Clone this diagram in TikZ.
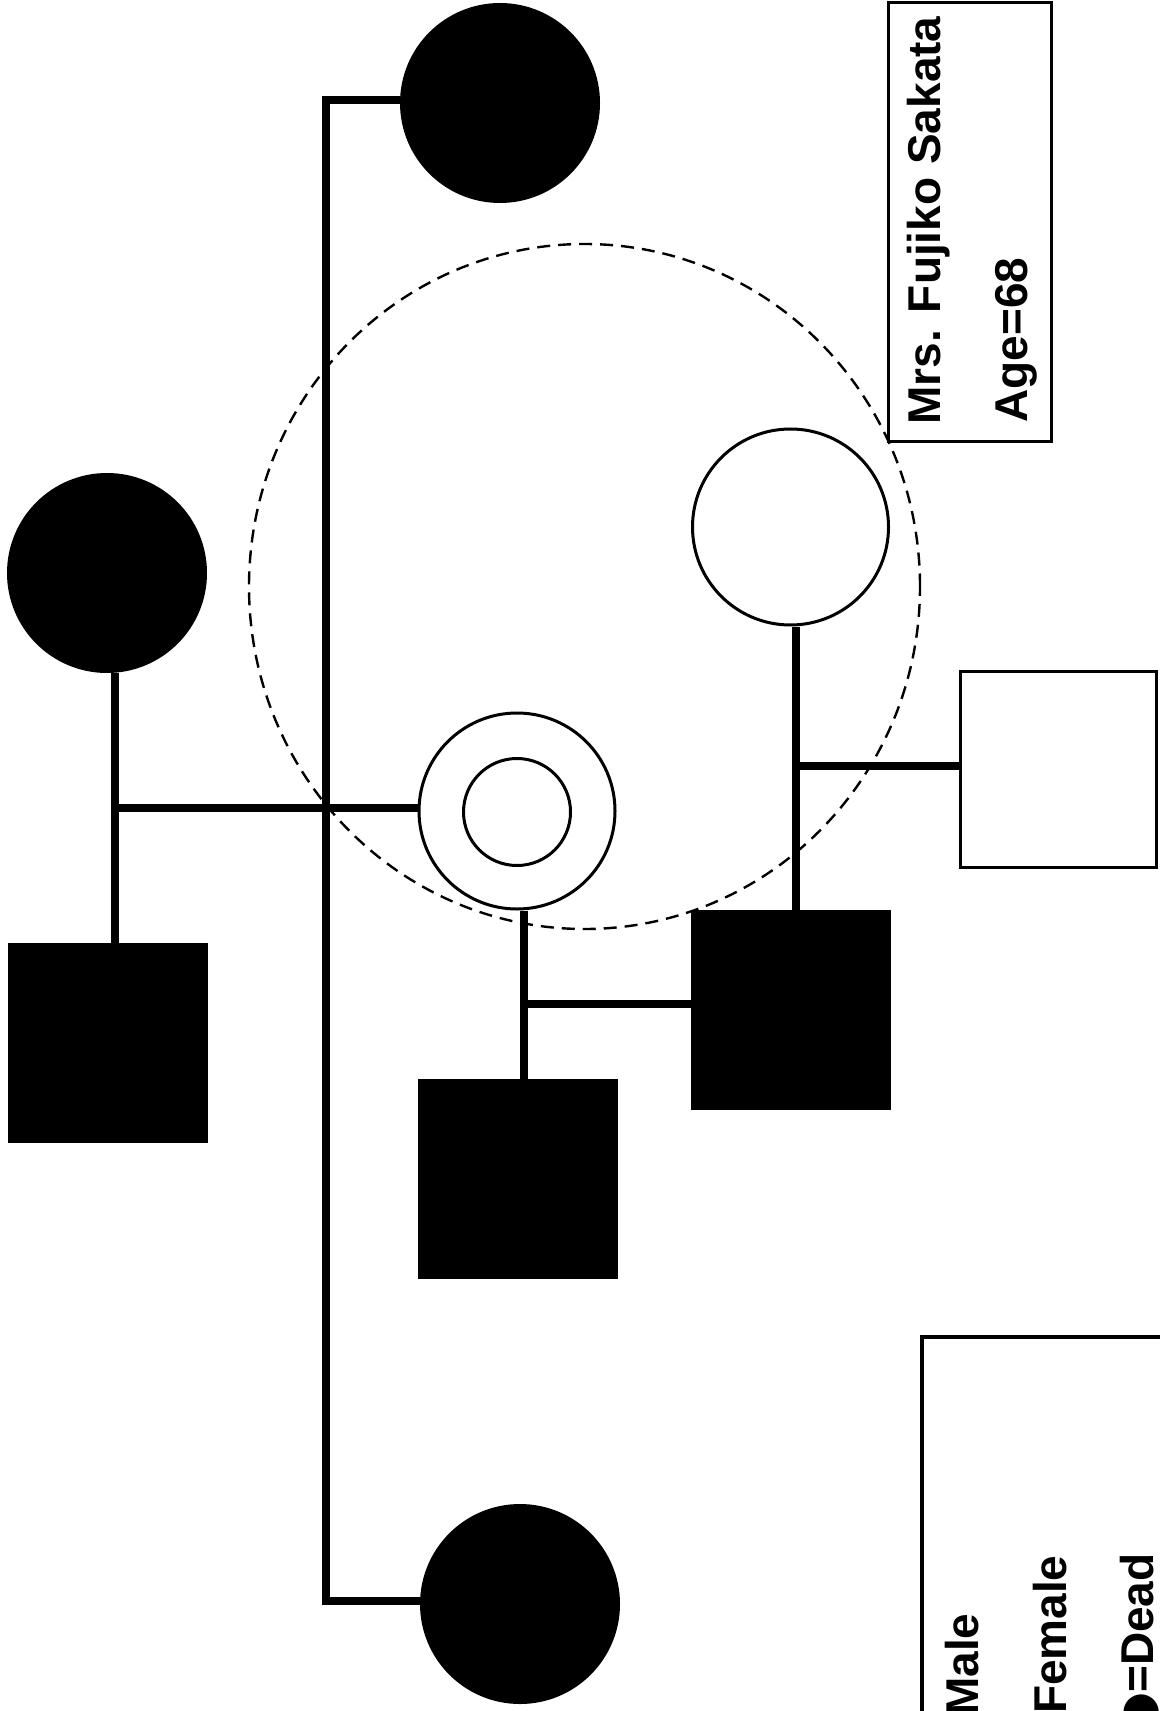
\documentclass[tikz,border=0pt]{standalone}
\usepackage{fontspec}
\setmainfont{Liberation Sans}
\newfontfamily\symf{DejaVu Sans}
\usetikzlibrary{shapes.geometric}
\begin{document}
\begin{tikzpicture}[x=0.5pt,y=-0.5pt,
  fcirc/.style={circle,fill=black,draw=none,minimum size=100pt,inner sep=0pt},
  ocirc/.style={circle,draw=black,line width=1.5pt,minimum size=98pt,inner sep=0pt},
  icirc/.style={circle,draw=black,line width=1.5pt,minimum size=53.5pt,inner sep=0pt},
  fsq/.style={rectangle,fill=black,draw=none,minimum size=100pt,inner sep=0pt},
  osq/.style={rectangle,draw=black,line width=1.5pt,minimum size=98pt,inner sep=0pt},
  conn/.style={line width=4pt},
  grpring/.style={ellipse,draw=black,line width=1.2pt,dash pattern=on 6.5pt off 4pt,inner sep=0pt},
  lbl/.style={rotate=90,inner sep=0pt,font=\fontsize{23}{28}\selectfont\bfseries},
]
\useasboundingbox (0,0) rectangle (1160,1711);
\clip (0,0) rectangle (1160,1711);

% symbols
\node[fcirc] (tc) at (500,103) {};
\node[fcirc] (lc) at (107,573) {};
\node[fsq] (ls) at (108,1043) {};
\node[ocirc] (dc) at (517,811) {};
\node[icirc] (dci) at (517,812) {};
\node[fsq] (cs) at (518,1179) {};
\node[fsq] (ms) at (791,1010) {};
\node[ocirc] (oc) at (790.5,527) {};
\node[osq] (os) at (1058.5,769) {};
\node[fcirc] (bc) at (520,1604) {};

% connectors
\coordinate (vt) at (326,100);
\coordinate (vb) at (326,1601);
\draw[conn] (tc.west |- vt) -- (vt) -- (vb) -- (bc.west |- vb);
\coordinate (lj) at (115,808);
\draw[conn] (lc.south -| lj) -- (ls.north -| lj);
\draw[conn] (lj) -- (dc.west |- lj);
\coordinate (cj) at (524,1004);
\draw[conn] (dc.south -| cj) -- (cs.north -| cj);
\draw[conn] (cj) -- (ms.west |- cj);
\coordinate (oj) at (796,766);
\draw[conn] (oc.south -| oj) -- (ms.north -| oj);
\draw[conn] (oj) -- (os.west |- oj);

% dashed group ring
\node[grpring,minimum width=335.5pt,minimum height=342.5pt] (grp) at (584.5,586.5) {};

% name box
\node[draw=black,line width=1.5pt,minimum width=81.5pt,minimum height=219.5pt,inner sep=0pt] (namebox) at (970,222) {};
\node[lbl,anchor=base west] (name) at (940,425) {Mrs. Fujiko Sakata};
\node[lbl,anchor=base west] (age) at (1027,423) {Age=68};

% legend box
\node[draw=black,line width=2pt,minimum width=139pt,minimum height=211.5pt,inner sep=0pt] (legend) at (1061,1548.5) {};
\node[lbl,anchor=base east] (lm) at (978,1613) {Male};
\node[lbl,anchor=base east] (lf) at (1066,1555) {Female};
\node[lbl,anchor=base east] (ld) at (1153,1553) {{\symf\bfseries ●}=Dead};
\end{tikzpicture}
\end{document}
